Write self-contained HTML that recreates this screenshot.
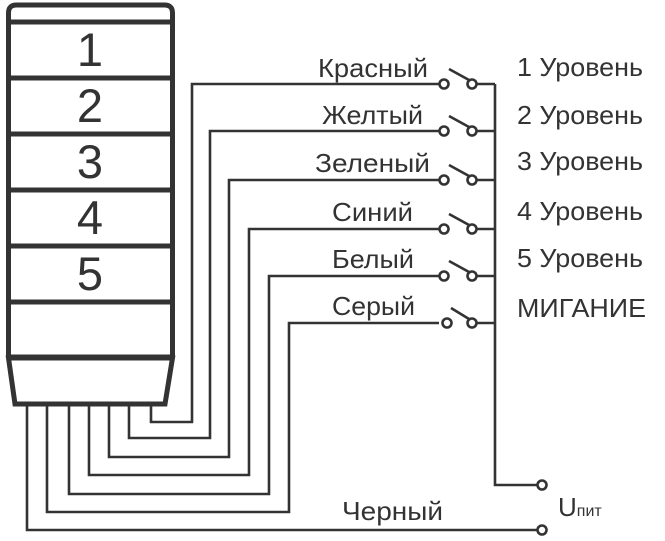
<!DOCTYPE html>
<html><head><meta charset="utf-8"><style>
html,body{margin:0;padding:0;background:#fff;}
svg{display:block;}
text{font-family:"Liberation Sans",Arial,sans-serif;fill:#333;}
</style></head><body>
<svg width="665" height="541" viewBox="0 0 665 541" xmlns="http://www.w3.org/2000/svg">
<g stroke="#333" fill="none">
  <!-- tower -->
  <path d="M8.5,358 L8.5,13 Q8.5,5 16.5,5 L164.5,5 Q172.5,5 172.5,13 L172.5,358" stroke-width="5"/>
  <path d="M8.5,358 L15,404 L165,404 L172.5,358 Z" stroke-width="5"/>
  <g stroke-width="5">
    <line x1="8" y1="22" x2="173" y2="22"/>
    <line x1="8" y1="78" x2="173" y2="78"/>
    <line x1="8" y1="134" x2="173" y2="134"/>
    <line x1="8" y1="190" x2="173" y2="190"/>
    <line x1="8" y1="246" x2="173" y2="246"/>
    <line x1="8" y1="302" x2="173" y2="302"/>
    <line x1="8" y1="357" x2="173" y2="357"/>
  </g>
  <!-- wires -->
  <g stroke-width="2.6">
    <polyline points="151,405 151,422 192,422 192,84 439,84"/>
    <polyline points="129,405 129,438 210,438 210,131 439,131"/>
    <polyline points="109,405 109,457 229,457 229,180 439,180"/>
    <polyline points="89,405 89,475 249,475 249,229 439,229"/>
    <polyline points="69,405 69,494 269,494 269,276 439,276"/>
    <polyline points="47,405 47,512 289,512 289,323 439,323"/>
    <polyline points="27,405 27,530 537,530"/>
    <!-- bus -->
    <polyline points="495,84 495,485 537,485"/>
    <line x1="477" y1="84" x2="495" y2="84"/>
    <line x1="477" y1="131" x2="495" y2="131"/>
    <line x1="477" y1="180" x2="495" y2="180"/>
    <line x1="477" y1="229" x2="495" y2="229"/>
    <line x1="477" y1="276" x2="495" y2="276"/>
    <line x1="477" y1="323" x2="495" y2="323"/>
  </g>
  <!-- switches -->
  <g stroke-width="2.6">
    <g transform="translate(0,84)"><circle cx="444" cy="0" r="4.5"/><circle cx="472" cy="0" r="4.5"/><line x1="449" y1="-15" x2="469" y2="-4"/></g>
    <g transform="translate(0,131)"><circle cx="444" cy="0" r="4.5"/><circle cx="472" cy="0" r="4.5"/><line x1="449" y1="-15" x2="469" y2="-4"/></g>
    <g transform="translate(0,180)"><circle cx="444" cy="0" r="4.5"/><circle cx="472" cy="0" r="4.5"/><line x1="449" y1="-15" x2="469" y2="-4"/></g>
    <g transform="translate(0,229)"><circle cx="444" cy="0" r="4.5"/><circle cx="472" cy="0" r="4.5"/><line x1="449" y1="-15" x2="469" y2="-4"/></g>
    <g transform="translate(0,276)"><circle cx="444" cy="0" r="4.5"/><circle cx="472" cy="0" r="4.5"/><line x1="449" y1="-15" x2="469" y2="-4"/></g>
    <g transform="translate(0,323)"><circle cx="447" cy="0" r="4.5"/><circle cx="472" cy="0" r="4.5"/><line x1="451" y1="-15" x2="469" y2="-4"/></g>
    <circle cx="542" cy="485" r="4.5"/>
    <circle cx="542" cy="530" r="4.5"/>
  </g>
</g>
<!-- digits -->
<g font-size="47" text-anchor="middle">
  <text x="90" y="66">1</text>
  <text x="90" y="122">2</text>
  <text x="90" y="178">3</text>
  <text x="90" y="234">4</text>
  <text x="90" y="290">5</text>
</g>
<g font-size="26">
  <text x="318" y="77" textLength="110" lengthAdjust="spacingAndGlyphs">Красный</text>
  <text x="322" y="124" textLength="101" lengthAdjust="spacingAndGlyphs">Желтый</text>
  <text x="315" y="172" textLength="115" lengthAdjust="spacingAndGlyphs">Зеленый</text>
  <text x="332" y="221" textLength="81" lengthAdjust="spacingAndGlyphs">Синий</text>
  <text x="332" y="268" textLength="82" lengthAdjust="spacingAndGlyphs">Белый</text>
  <text x="332" y="315" textLength="83" lengthAdjust="spacingAndGlyphs">Серый</text>
  <text x="342" y="520" textLength="101" lengthAdjust="spacingAndGlyphs">Черный</text>
  <text x="517" y="76" textLength="126" lengthAdjust="spacingAndGlyphs">1 Уровень</text>
  <text x="517" y="124" textLength="126" lengthAdjust="spacingAndGlyphs">2 Уровень</text>
  <text x="517" y="170" textLength="126" lengthAdjust="spacingAndGlyphs">3 Уровень</text>
  <text x="517" y="220" textLength="126" lengthAdjust="spacingAndGlyphs">4 Уровень</text>
  <text x="517" y="267" textLength="126" lengthAdjust="spacingAndGlyphs">5 Уровень</text>
  <text x="517" y="317" textLength="129" lengthAdjust="spacingAndGlyphs">МИГАНИЕ</text>
  <text x="558" y="516">U<tspan font-size="16">пит</tspan></text>
</g>
</svg>
</body></html>
